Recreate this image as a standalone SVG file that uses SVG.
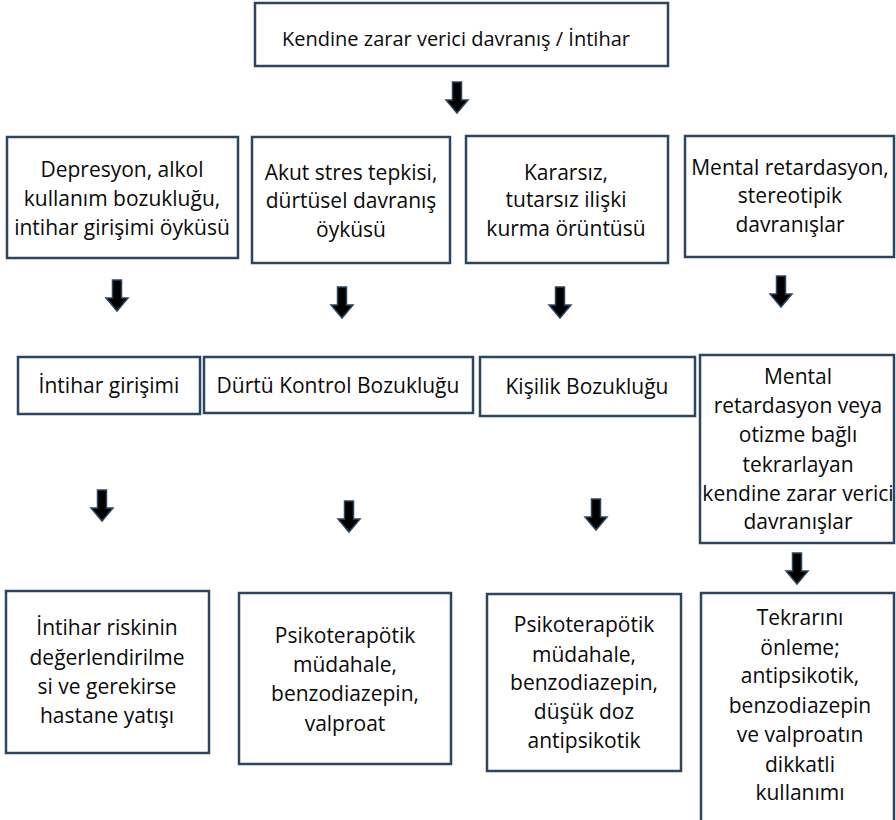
<svg xmlns="http://www.w3.org/2000/svg" xmlns:xlink="http://www.w3.org/1999/xlink" width="896" height="820" viewBox="0 0 896 820">
<style>
.box{fill:#fff;stroke:#2C4661;stroke-width:2.5}
.t{font-family:"Open Sans","Liberation Sans",sans-serif;font-size:21px;fill:#0a0a0a;text-anchor:middle}
.arr{fill:#000;stroke:#2C4661;stroke-width:1.5;stroke-linejoin:miter}
</style>
<defs>
<path id="arrow" class="arr" d="M-4.5,0 H4.5 V18 H11 L0,31 L-11,18 H-4.5 Z"/>
</defs>
<rect width="896" height="820" fill="#fff"/>
<g id="connectors">
<use xlink:href="#arrow" href="#arrow" x="457" y="82"/>
<use xlink:href="#arrow" href="#arrow" x="117" y="280"/>
<use xlink:href="#arrow" href="#arrow" x="342" y="287"/>
<use xlink:href="#arrow" href="#arrow" x="560" y="287"/>
<use xlink:href="#arrow" href="#arrow" x="781" y="276"/>
<use xlink:href="#arrow" href="#arrow" x="102" y="490"/>
<use xlink:href="#arrow" href="#arrow" x="349" y="501"/>
<use xlink:href="#arrow" href="#arrow" x="596" y="499"/>
<use xlink:href="#arrow" href="#arrow" x="797" y="553"/>
</g>
<g id="n0"><rect class="box" x="255" y="3" width="413" height="63"/><text class="t" x="456" y="46" style="font-size:20px">Kendine zarar verici davranış / İntihar</text></g>
<g id="n1"><rect class="box" x="7" y="137" width="231" height="121"/><text class="t" x="122" y="177">Depresyon, alkol</text><text class="t" x="122" y="206">kullanım bozukluğu,</text><text class="t" x="122" y="235">intihar girişimi öyküsü</text></g>
<g id="n2"><rect class="box" x="252" y="137" width="198" height="126"/><text class="t" x="351" y="180">Akut stres tepkisi,</text><text class="t" x="351" y="208">dürtüsel davranış</text><text class="t" x="351" y="237">öyküsü</text></g>
<g id="n3"><rect class="box" x="466" y="136" width="202" height="127"/><text class="t" x="566" y="180">Kararsız,</text><text class="t" x="566" y="207">tutarsız ilişki</text><text class="t" x="566" y="236">kurma örüntüsü</text></g>
<g id="n4"><rect class="box" x="685" y="136" width="209" height="121"/><text class="t" x="790" y="175">Mental retardasyon,</text><text class="t" x="790" y="203">stereotipik</text><text class="t" x="790" y="232">davranışlar</text></g>
<g id="n5"><rect class="box" x="18" y="357" width="182" height="57"/><text class="t" x="109" y="393">İntihar girişimi</text></g>
<g id="n6"><rect class="box" x="204" y="357" width="269" height="56"/><text class="t" x="338" y="393">Dürtü Kontrol Bozukluğu</text></g>
<g id="n7"><rect class="box" x="480" y="357" width="215" height="59"/><text class="t" x="587" y="394">Kişilik Bozukluğu</text></g>
<g id="n8"><rect class="box" x="700" y="355" width="194" height="188"/><text class="t" x="798" y="384">Mental</text><text class="t" x="798" y="413">retardasyon veya</text><text class="t" x="798" y="442">otizme bağlı</text><text class="t" x="798" y="472">tekrarlayan</text><text class="t" x="798" y="501">kendine zarar verici</text><text class="t" x="798" y="529">davranışlar</text></g>
<g id="n9"><rect class="box" x="6" y="591" width="203" height="162"/><text class="t" x="107" y="635">İntihar riskinin</text><text class="t" x="107" y="665">değerlendirilme</text><text class="t" x="107" y="694">si ve gerekirse</text><text class="t" x="107" y="723">hastane yatışı</text></g>
<g id="n10"><rect class="box" x="239" y="593" width="212" height="171"/><text class="t" x="345" y="643">Psikoterapötik</text><text class="t" x="345" y="672">müdahale,</text><text class="t" x="345" y="701">benzodiazepin,</text><text class="t" x="345" y="731">valproat</text></g>
<g id="n11"><rect class="box" x="487" y="594" width="194" height="177"/><text class="t" x="584" y="632">Psikoterapötik</text><text class="t" x="584" y="662">müdahale,</text><text class="t" x="584" y="690">benzodiazepin,</text><text class="t" x="584" y="719">düşük doz</text><text class="t" x="584" y="748">antipsikotik</text></g>
<g id="n12"><rect class="box" x="701" y="593" width="193" height="240"/><text class="t" x="800" y="625">Tekrarını</text><text class="t" x="800" y="655">önleme;</text><text class="t" x="800" y="683">antipsikotik,</text><text class="t" x="800" y="713">benzodiazepin</text><text class="t" x="800" y="742">ve valproatın</text><text class="t" x="800" y="772">dikkatli</text><text class="t" x="800" y="800">kullanımı</text></g>
</svg>
